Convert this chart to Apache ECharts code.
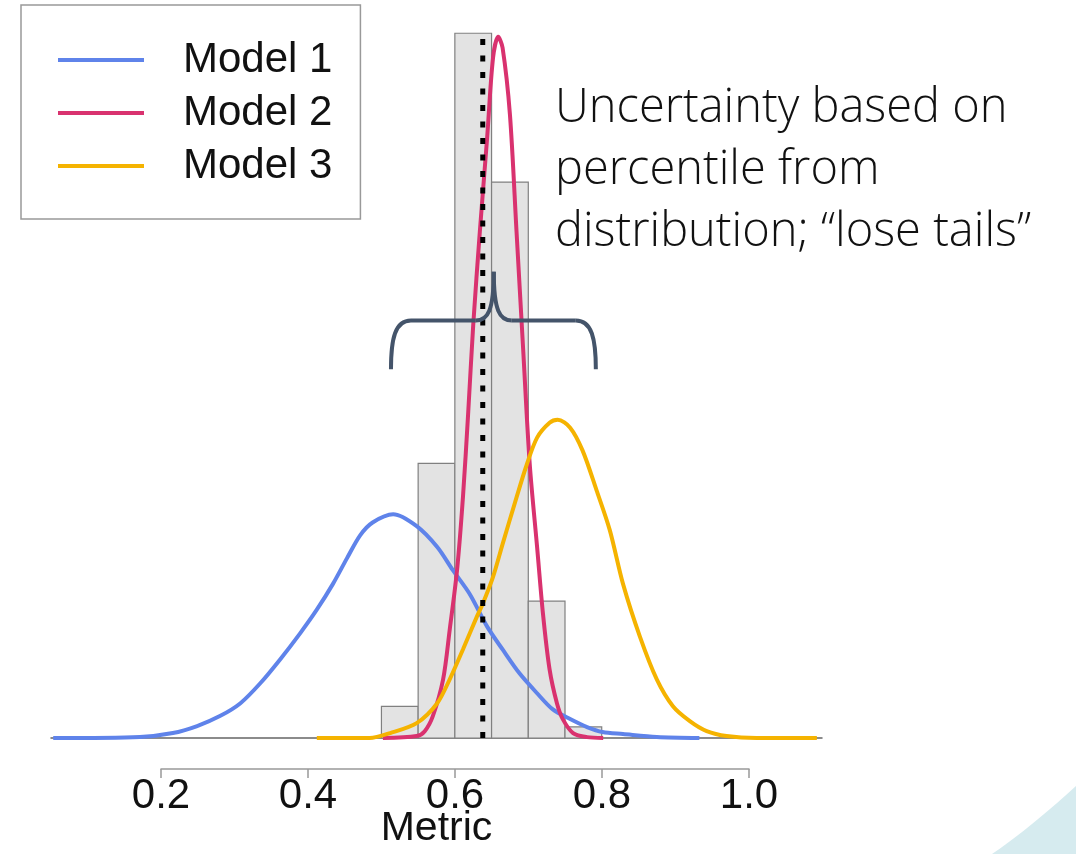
<!DOCTYPE html>
<html>
<head>
<meta charset="utf-8">
<script src="https://cdn.jsdelivr.net/npm/echarts@6/dist/echarts.min.js"></script>
<style>
  html, body { margin: 0; padding: 0; background: #fff; }
  #chart { width: 1076px; height: 854px; }
</style>
</head>
<body>
<div id="chart"></div>
<script>
var myChart = echarts.init(document.getElementById('chart'), null, { renderer: 'canvas' });

// histogram (bin edges + heights, density-like units)
var binEdges = [0.5, 0.55, 0.6, 0.65, 0.7, 0.75, 0.8];
var binHeights = [0.37, 3.21, 8.24, 6.5, 1.6, 0.13];

// density curves: [metric, density]
var model1 = [
    [0.053, 0], [0.171, 0.012], [0.216, 0.058], [0.249, 0.14], [0.280, 0.256],
    [0.308, 0.407], [0.335, 0.64], [0.362, 0.919], [0.389, 1.221], [0.412, 1.5],
    [0.434, 1.802], [0.453, 2.1], [0.471, 2.37], [0.488, 2.52], [0.516, 2.616],
    [0.548, 2.477], [0.576, 2.233], [0.597, 1.965], [0.620, 1.686], [0.644, 1.302],
    [0.665, 1.035], [0.688, 0.756], [0.712, 0.523], [0.733, 0.337], [0.757, 0.221],
    [0.780, 0.128], [0.801, 0.07], [0.829, 0.047], [0.875, 0.012], [0.933, 0]
];
var model2 = [
    [0.502, 0], [0.548, 0.023], [0.559, 0.08], [0.570, 0.256], [0.584, 0.686],
    [0.593, 1.267], [0.603, 1.965], [0.611, 2.814], [0.618, 3.779], [0.625, 4.826],
    [0.634, 5.919], [0.644, 7.023], [0.652, 7.953], [0.659, 8.198], [0.665, 8.07],
    [0.675, 7.29], [0.684, 5.919], [0.693, 4.547], [0.702, 3.198], [0.712, 2.233],
    [0.720, 1.453], [0.729, 0.802], [0.739, 0.407], [0.747, 0.221], [0.761, 0.058],
    [0.780, 0.01], [0.802, 0]
];
var model3 = [
    [0.412, 0], [0.484, 0], [0.512, 0.058], [0.548, 0.174], [0.576, 0.407],
    [0.593, 0.686], [0.611, 1.035], [0.630, 1.419], [0.638, 1.57], [0.652, 1.884],
    [0.665, 2.267], [0.684, 2.814], [0.698, 3.198], [0.712, 3.512], [0.729, 3.686],
    [0.740, 3.721], [0.757, 3.628], [0.774, 3.36], [0.793, 2.895], [0.811, 2.43],
    [0.829, 1.802], [0.852, 1.186], [0.875, 0.686], [0.897, 0.372], [0.920, 0.198],
    [0.943, 0.081], [0.970, 0.023], [1.011, 0], [1.093, 0]
];
var refValue = 0.638;
var refTop = 8.28;
var legendNames = ['Model 1', 'Model 2', 'Model 3'];
var modelColors = ['#5f83ea', '#d9326f', '#f5b300'];
var noteLines = ['Uncertainty based on', 'percentile from', 'distribution; \u201close tails\u201d'];

var histData = binHeights.map(function (h, i) {
    return [binEdges[i], binEdges[i + 1], h];
});

function renderBin(params, api) {
    var p0 = api.coord([api.value(0), api.value(2)]);
    var p1 = api.coord([api.value(1), 0]);
    return {
        type: 'rect',
        shape: { x: p0[0], y: p0[1], width: p1[0] - p0[0], height: p1[1] - p0[1] },
        style: { fill: '#e3e3e3', stroke: '#808080', lineWidth: 1.2 }
    };
}

function curve(name, data, color) {
    return {
        name: name,
        type: 'line',
        data: data,
        showSymbol: false,
        smooth: 0.3,
        z: 3,
        lineStyle: { color: color, width: 4 },
        itemStyle: { color: color }
    };
}

var option = {
    backgroundColor: '#fff',
    animation: false,
    textStyle: { fontFamily: 'Liberation Sans, Arial, sans-serif' },
    grid: [
        { left: 51, right: 254, top: 11, bottom: 112 },
        { left: 161, right: 327, top: 768, height: 1 }
    ],
    xAxis: [{
        type: 'value',
        min: 0.05,
        max: 1.1,
        axisLine: { show: true, lineStyle: { color: '#666', width: 1.5 } },
        axisTick: { show: false },
        axisLabel: { show: false },
        splitLine: { show: false },
        name: 'Metric',
        nameLocation: 'middle',
        nameGap: 70,
        nameTextStyle: { fontSize: 41, color: '#111' }
    }, {
        type: 'value',
        gridIndex: 1,
        min: 0.2,
        max: 1.0,
        interval: 0.2,
        axisLine: { show: true, lineStyle: { color: '#999', width: 1.5 } },
        axisTick: { show: true, length: 9, lineStyle: { color: '#999', width: 1.5 } },
        axisLabel: {
            fontSize: 42,
            color: '#111',
            margin: 6,
            formatter: function (v) { return v.toFixed(1); }
        },
        splitLine: { show: false }
    }],
    yAxis: [
        { type: 'value', min: 0, max: 8.5, show: false },
        { type: 'value', gridIndex: 1, show: false }
    ],
    legend: {
        data: legendNames,
        orient: 'vertical',
        left: 21,
        top: 5,
        padding: [34, 28, 32, 37],
        itemGap: 11,
        itemWidth: 86,
        itemHeight: 4,
        icon: 'rect',
        selectedMode: false,
        backgroundColor: '#fff',
        borderColor: '#999',
        borderWidth: 1.5,
        textStyle: { fontSize: 42, color: '#111', padding: [0, 0, 0, 34] }
    },
    series: [
        {
            name: 'hist',
            type: 'custom',
            renderItem: renderBin,
            data: histData,
            encode: { x: [0, 1], y: 2 },
            z: 1
        },
        curve(legendNames[0], model1, modelColors[0]),
        curve(legendNames[1], model2, modelColors[1]),
        curve(legendNames[2], model3, modelColors[2]),
        {
            name: 'ref',
            type: 'line',
            data: [[refValue, 0], [refValue, refTop]],
            showSymbol: false,
            z: 4,
            lineStyle: { color: '#000', width: 5, type: [6, 10.5] }
        }
    ]
};

myChart.setOption(option);

// light corner shape of the slide (bottom right)
var decoPts = [];
for (var t = 0; t <= 1.0001; t += 0.1) {
    var qx = (1 - t) * (1 - t) * 992 + 2 * (1 - t) * t * 1030 + t * t * 1076;
    var qy = (1 - t) * (1 - t) * 854 + 2 * (1 - t) * t * 828 + t * t * 786;
    decoPts.push([qx, qy]);
}
decoPts.push([1076, 854]);

// curly brace over the central range, placed through the chart's scales
var a = myChart.convertToPixel({ gridIndex: 0 }, [0.513, 4.31]);
var b = myChart.convertToPixel({ gridIndex: 0 }, [0.653, 4.88]);
var tip = myChart.convertToPixel({ gridIndex: 0 }, [0.653, 5.45]);
var c = myChart.convertToPixel({ gridIndex: 0 }, [0.792, 4.31]);
var yl = b[1];
function braceStyle() {
    return { stroke: '#44546a', lineWidth: 4, fill: null, lineCap: 'butt' };
}
function bez(x1, y1, c1x, c1y, c2x, c2y, x2, y2) {
    return { type: 'bezierCurve', z: 10,
        shape: { x1: x1, y1: y1, cpx1: c1x, cpy1: c1y, cpx2: c2x, cpy2: c2y, x2: x2, y2: y2 },
        style: braceStyle() };
}
function seg(x1, y1, x2, y2) {
    return { type: 'line', z: 10, shape: { x1: x1, y1: y1, x2: x2, y2: y2 }, style: braceStyle() };
}

myChart.setOption({
    graphic: [
        {
            type: 'polygon',
            silent: true,
            z: -1,
            shape: { points: decoPts },
            style: { fill: '#d6ebef', stroke: null }
        },
        {
            type: 'text',
            left: 555,
            top: 78,
            z: 10,
            style: {
                text: noteLines.join('\n'),
                fontFamily: 'Open Sans',
                fontWeight: 300,
                fontSize: 47,
                lineHeight: 62,
                fill: '#111'
            }
        },
        bez(a[0], a[1], a[0], yl + 18, a[0] + 4, yl, a[0] + 20, yl),
        seg(a[0] + 20, yl, b[0] - 18, yl),
        bez(b[0] - 18, yl, b[0] - 6, yl, b[0], yl - 10, tip[0], tip[1]),
        bez(tip[0], tip[1], b[0], yl - 10, b[0] + 6, yl, b[0] + 18, yl),
        seg(b[0] + 18, yl, c[0] - 20, yl),
        bez(c[0] - 20, yl, c[0] - 4, yl, c[0], yl + 18, c[0], c[1])
    ]
});

window.addEventListener('resize', myChart.resize);
</script>
</body>
</html>
